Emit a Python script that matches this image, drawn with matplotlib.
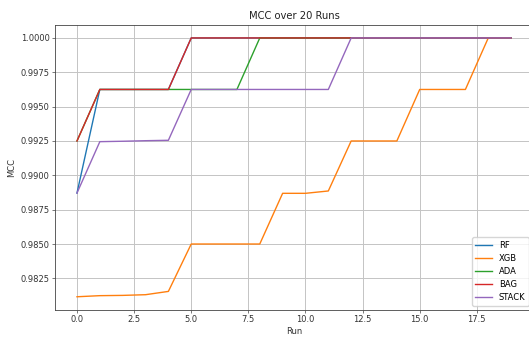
import matplotlib
matplotlib.use('Agg')
import matplotlib.pyplot as plt

# ── data ──────────────────────────────────────────────────────────────────────
runs = list(range(20))

rf = [0.98871] + [0.99625] * 4 + [1.0] * 15
xgb = [0.98116, 0.98124, 0.98126, 0.98131, 0.98155,
       0.9850, 0.9850, 0.9850, 0.9850,
       0.98869, 0.98869, 0.98886,
       0.9925, 0.9925, 0.9925,
       0.99625, 0.99625, 0.99625,
       1.0, 1.0]
ada = [0.9925] + [0.99625] * 7 + [1.0] * 12
bag = [0.9925] + [0.99625] * 4 + [1.0] * 15
stack = [0.98871, 0.99245, 0.99248, 0.99252, 0.99255] + [0.99625] * 7 + [1.0] * 8

series = [('RF', rf), ('XGB', xgb), ('ADA', ada), ('BAG', bag), ('STACK', stack)]

# ── plot ──────────────────────────────────────────────────────────────────────
plt.rcParams['font.size'] = 6
plt.rcParams['axes.linewidth'] = 0.6
plt.rcParams['axes.edgecolor'] = '#444444'
plt.rcParams['xtick.major.width'] = 0.5
plt.rcParams['ytick.major.width'] = 0.5
plt.rcParams['xtick.major.size'] = 2.1
plt.rcParams['ytick.major.size'] = 2.1
plt.rcParams['xtick.color'] = '#444444'
plt.rcParams['ytick.color'] = '#444444'
plt.rcParams['xtick.labelcolor'] = '#333333'
plt.rcParams['ytick.labelcolor'] = '#333333'

fig = plt.figure(figsize=(5.29, 3.37), dpi=100)
ax = fig.add_axes([0.1045, 0.081, 0.9027, 0.8448])

for name, vals in series:
    ax.plot(runs, vals, label=name, linewidth=1.0)

ax.set_title('MCC over 20 Runs', fontsize=7.2, pad=4, color='#222222')
ax.set_xlabel('Run', fontsize=6, labelpad=2, color='#333333')
ax.set_ylabel('MCC', fontsize=6, labelpad=3, color='#333333')
ax.tick_params(labelsize=6, pad=2)
ax.grid(True, linewidth=0.7, color='#c4c4c4')
ax.legend(loc='lower right', fontsize=6, borderaxespad=0.5, framealpha=0.8)

fig.savefig('out.png', dpi=100)
